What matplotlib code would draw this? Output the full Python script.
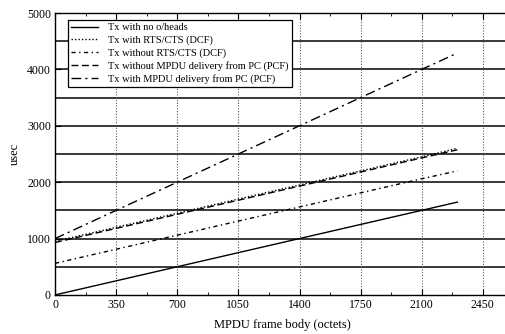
import matplotlib
matplotlib.use("Agg")
import matplotlib.pyplot as plt
from matplotlib.ticker import MultipleLocator

plt.rcParams['font.family'] = ['Liberation Serif', 'DejaVu Serif']

# MPDU frame body sizes (octets) and transmission times (usec)
frame_sizes = [0, 350, 700, 1050, 1400, 1750, 2100, 2304]
tx_no_overheads = [0, 250, 500, 750, 1000, 1250, 1500, 1646]
tx_rts_cts_dcf = [950, 1200, 1450, 1700, 1950, 2200, 2450, 2600]
tx_no_rts_cts_dcf = [560, 810, 1060, 1310, 1560, 1810, 2060, 2200]
tx_no_mpdu_pcf = [930, 1180, 1430, 1680, 1930, 2180, 2430, 2575]
tx_mpdu_pcf = [1000, 1500, 2000, 2500, 3000, 3500, 4000, 4290]

labels = [
    "Tx with no o/heads",
    "Tx with RTS/CTS (DCF)",
    "Tx without RTS/CTS (DCF)",
    "Tx without MPDU delivery from PC (PCF)",
    "Tx with MPDU delivery from PC (PCF)",
]
x_ticks = [0, 350, 700, 1050, 1400, 1750, 2100, 2450]
y_ticks = [0, 1000, 2000, 3000, 4000, 5000]

fig = plt.figure(figsize=(5.05, 3.34), dpi=100)
ax = fig.add_axes([0.109, 0.117, 0.899, 0.844])

series = [tx_no_overheads, tx_rts_cts_dcf, tx_no_rts_cts_dcf,
          tx_no_mpdu_pcf, tx_mpdu_pcf]
styles = ['-', (0, (1, 1.5)), (0, (3, 2.5, 1, 2.5)),
          (0, (5, 2.5)), (0, (7, 3, 1.5, 3))]
for ys, ls, lab in zip(series, styles, labels):
    ax.plot(frame_sizes, ys, color='black', linestyle=ls, linewidth=1.0,
            label=lab)

ax.set_xlim(0, 2600)
ax.set_ylim(0, 5000)
ax.set_xticks(x_ticks)
ax.set_yticks(y_ticks)
ax.xaxis.set_minor_locator(MultipleLocator(175))

# horizontal rules every 500, dotted verticals at each x tick
for yv in range(500, 5000, 500):
    ax.axhline(yv, color='#2a2a2a', linewidth=1.3, zorder=0)
for xv in x_ticks[1:]:
    ax.axvline(xv, color='#555555', linewidth=0.8, linestyle=(0, (1, 1.5)),
               zorder=0)

ax.tick_params(which='both', direction='in', top=True, right=False,
               labelsize=8.5, pad=3)
ax.tick_params(which='major', length=4)
ax.tick_params(which='minor', length=2.5)
for s in ax.spines.values():
    s.set_linewidth(1.0)
    s.set_color('black')

ax.set_xlabel("MPDU frame body (octets)", fontsize=9, labelpad=6)
ax.set_ylabel("usec", fontsize=9, labelpad=4)

leg = ax.legend(loc='upper left', bbox_to_anchor=(0.028, 0.975),
                fontsize=7.5, frameon=True, fancybox=False, borderpad=0.3,
                labelspacing=0.3, handlelength=2.6, handletextpad=1.0,
                borderaxespad=0.0)
leg.get_frame().set_edgecolor('black')
leg.get_frame().set_linewidth(0.9)
leg.get_frame().set_alpha(1.0)

fig.savefig("out.png", dpi=100)
